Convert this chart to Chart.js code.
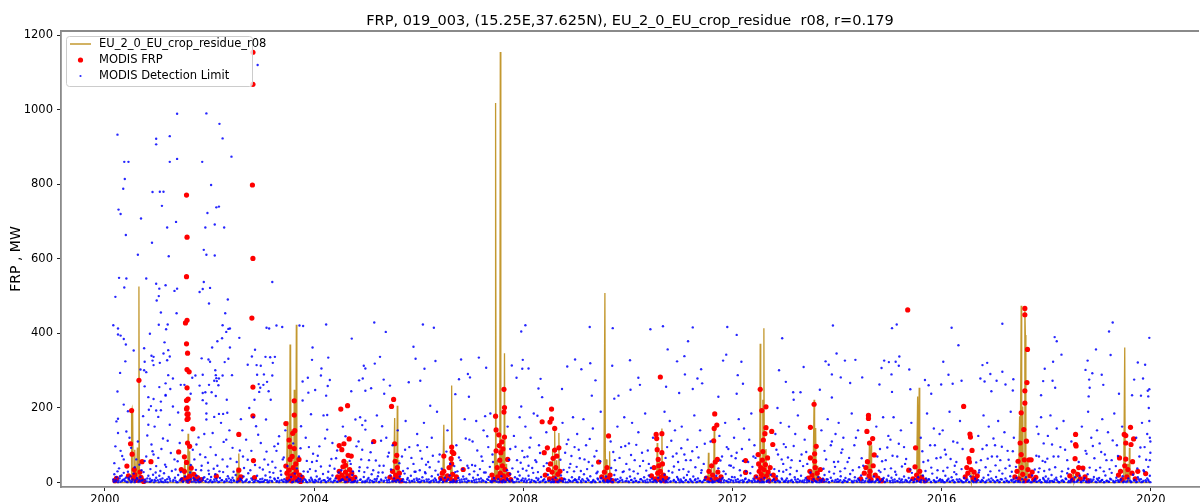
<!DOCTYPE html>
<html>
<head>
<meta charset="utf-8">
<script src="https://cdn.jsdelivr.net/npm/chart.js@4/dist/chart.umd.min.js"></script>
<style>
  html, body { margin: 0; padding: 0; background: #fff; }
  canvas { display: block; }
</style>
</head>
<body>
<canvas id="frp" width="1203" height="502"></canvas>
<script>
const titleText = "FRP, 019_003, (15.25E,37.625N), EU_2_0_EU_crop_residue  r08, r=0.179"
const yLabel = "FRP , MW"
const seriesNames = ["EU_2_0_EU_crop_residue_r08", "MODIS FRP", "MODIS Detection Limit"]
const xTicks = [2000, 2004, 2008, 2012, 2016, 2020]
const yTicks = [0, 200, 400, 600, 800, 1000, 1200]

// model emissions (decimal year, MW) - zero between the summer spikes
const cropResidue = [
  [2000.16,0],[2000.44,0],[2000.45,22],[2000.46,0],[2000.5,0],[2000.51,190],[2000.52,198],[2000.53,186],[2000.54,0],[2000.56,0],[2000.57,88],[2000.58,40],[2000.6,0],[2000.61,0],[2000.62,94],[2000.63,0],[2000.64,0],[2000.65,526],[2000.66,0],[2000.67,30],[2000.68,0],
  [2001.5,0],[2001.53,62],[2001.54,0],[2001.58,0],[2001.59,131],[2001.6,0],[2001.61,84],[2001.62,0],[2001.65,48],[2001.66,0],
  [2002.51,0],[2002.53,40],[2002.54,0],[2002.55,0],[2002.56,78],[2002.57,0],
  [2003.47,0],[2003.49,164],[2003.5,0],[2003.53,0],[2003.54,370],[2003.55,331],[2003.56,0],[2003.57,142],[2003.58,0],[2003.61,0],[2003.62,249],[2003.63,0],[2003.65,0],[2003.66,423],[2003.67,0],[2003.69,60],[2003.7,0],
  [2004.58,0],[2004.6,45],[2004.61,0],[2004.63,0],[2004.64,57],[2004.65,0],
  [2005.52,0],[2005.54,173],[2005.55,0],[2005.58,0],[2005.59,206],[2005.6,0],[2005.62,60],[2005.63,0],
  [2006.46,0],[2006.48,155],[2006.49,0],[2006.6,0],[2006.61,70],[2006.62,0],[2006.63,260],[2006.64,0],
  [2007.44,0],[2007.45,80],[2007.46,0],[2007.47,1018],[2007.48,0],[2007.5,60],[2007.51,0],[2007.55,0],[2007.56,1155],[2007.57,0],[2007.6,95],[2007.61,0],[2007.63,0],[2007.64,347],[2007.65,0],[2007.67,50],[2007.68,0],
  [2008.55,0],[2008.56,90],[2008.57,0],[2008.59,0],[2008.6,142],[2008.61,0],[2008.64,60],[2008.65,0],[2008.67,0],[2008.68,133],[2008.69,0],
  [2009.54,0],[2009.56,508],[2009.57,0],[2009.58,45],[2009.59,62],[2009.6,40],[2009.61,0],[2009.64,0],[2009.65,84],[2009.66,0],
  [2010.55,0],[2010.56,106],[2010.57,0],[2010.6,55],[2010.61,0],[2010.64,0],[2010.65,145],[2010.66,0],
  [2011.53,0],[2011.54,80],[2011.55,0],[2011.6,40],[2011.61,0],[2011.64,0],[2011.65,142],[2011.66,0],
  [2012.52,0],[2012.53,372],[2012.54,0],[2012.57,0],[2012.58,222],[2012.59,0],[2012.6,414],[2012.61,0],[2012.64,90],[2012.65,0],[2012.7,40],[2012.71,0],
  [2013.54,0],[2013.56,222],[2013.57,0],[2013.59,146],[2013.6,0],[2013.62,45],[2013.63,0],
  [2014.58,0],[2014.59,60],[2014.6,0],[2014.62,111],[2014.63,0],[2014.65,100],[2014.66,0],
  [2015.52,0],[2015.54,231],[2015.55,0],[2015.56,0],[2015.57,254],[2015.58,0],[2015.6,25],[2015.61,0],
  [2016.55,0],[2016.56,30],[2016.57,0],[2016.6,22],[2016.61,0],
  [2017.47,0],[2017.49,178],[2017.5,0],[2017.51,0],[2017.52,474],[2017.53,0],[2017.54,0],[2017.55,204],[2017.56,0],[2017.58,0],[2017.59,472],[2017.6,396],[2017.61,0],[2017.64,60],[2017.65,0],
  [2018.5,0],[2018.52,30],[2018.53,0],[2018.58,25],[2018.59,0],
  [2019.48,0],[2019.5,362],[2019.51,0],[2019.55,50],[2019.56,0],[2019.58,0],[2019.59,93],[2019.6,0],[2019.99,0]
]

// MODIS fire radiative power observations
const modisFrp = [
  [2000.19,5],[2000.22,11],[2000.42,44],[2000.45,18],[2000.49,104],[2000.51,193],[2000.52,76],[2000.54,12],[2000.56,35],[2000.57,21],[2000.6,6],[2000.65,274],[2000.67,28],[2000.69,14],[2000.7,8],[2000.71,56],[2000.74,3],[2000.88,56],
  [2001.41,82],[2001.46,35],[2001.48,8],[2001.52,30],[2001.52,69],[2001.54,428],[2001.56,771],[2001.56,552],[2001.56,372],[2001.56,220],[2001.56,197],[2001.56,54],[2001.57,658],[2001.57,435],[2001.57,303],[2001.57,254],[2001.57,200],[2001.57,183],[2001.57,169],[2001.58,347],[2001.58,106],[2001.59,224],[2001.59,184],[2001.59,172],[2001.61,297],[2001.62,97],[2001.62,17],[2001.65,39],[2001.68,144],[2001.7,22],[2001.73,10],[2001.77,13],[2001.84,8],[2001.6,4],[2001.55,12],
  [2002.13,17],[2002.56,129],[2002.56,33],[2002.57,8],[2002.6,15],[2002.81,441],[2002.83,1154],[2002.83,1068],[2002.82,798],[2002.83,601],[2002.83,256],[2002.83,179],[2002.84,59],[2002.86,13],
  [2003.46,158],[2003.52,114],[2003.54,96],[2003.54,62],[2003.46,44],[2003.48,25],[2003.5,10],[2003.52,33],[2003.55,18],[2003.57,5],[2003.59,132],[2003.62,219],[2003.62,181],[2003.62,91],[2003.63,139],[2003.6,40],[2003.61,22],[2003.64,12],[2003.66,30],[2003.68,8],[2003.71,62],[2003.72,20],[2003.74,3],[2003.77,14],[2003.65,50],[2003.58,70],
  [2004.45,15],[2004.48,99],[2004.48,30],[2004.5,8],[2004.51,197],[2004.53,88],[2004.53,20],[2004.55,42],[2004.57,104],[2004.57,57],[2004.58,12],[2004.6,46],[2004.6,28],[2004.62,5],[2004.64,206],[2004.65,73],[2004.65,18],[2004.67,117],[2004.68,35],[2004.7,10],[2004.71,71],[2004.72,25],[2004.75,6],[2004.78,14],
  [2005.14,110],[2005.45,14],[2005.48,204],[2005.5,30],[2005.52,223],[2005.53,8],[2005.54,104],[2005.55,57],[2005.56,20],[2005.58,73],[2005.59,40],[2005.6,11],[2005.63,25],[2005.66,5],
  [2006.42,12],[2006.45,25],[2006.48,71],[2006.48,30],[2006.5,8],[2006.55,18],[2006.58,40],[2006.6,10],[2006.62,64],[2006.63,95],[2006.63,50],[2006.64,82],[2006.65,22],[2006.67,78],[2006.69,6],[2006.72,15],[2006.85,35],
  [2007.4,20],[2007.43,8],[2007.47,178],[2007.48,141],[2007.48,85],[2007.5,40],[2007.51,15],[2007.53,128],[2007.54,99],[2007.55,60],[2007.56,25],[2007.57,80],[2007.58,5],[2007.59,109],[2007.6,45],[2007.61,90],[2007.62,18],[2007.63,250],[2007.63,189],[2007.64,201],[2007.64,122],[2007.65,35],[2007.67,10],[2007.7,62],[2007.72,22],[2007.76,8],
  [2008.36,163],[2008.4,80],[2008.42,20],[2008.46,93],[2008.48,35],[2008.5,10],[2008.51,162],[2008.52,50],[2008.54,197],[2008.54,171],[2008.55,28],[2008.57,65],[2008.58,12],[2008.6,145],[2008.6,87],[2008.62,40],[2008.63,5],[2008.64,71],[2008.66,22],[2008.68,93],[2008.7,30],[2008.73,8],
  [2009.44,55],[2009.5,15],[2009.55,28],[2009.58,8],[2009.6,40],[2009.62,12],[2009.63,125],[2009.66,20],[2009.7,5],
  [2010.45,18],[2010.5,40],[2010.52,10],[2010.54,129],[2010.55,118],[2010.56,88],[2010.57,25],[2010.58,62],[2010.59,45],[2010.6,8],[2010.62,283],[2010.62,30],[2010.64,15],[2010.65,131],[2010.65,80],[2010.66,50],[2010.68,20],[2010.7,5],[2010.73,12],
  [2011.5,12],[2011.55,30],[2011.58,8],[2011.6,45],[2011.62,20],[2011.64,112],[2011.65,145],[2011.66,184],[2011.67,55],[2011.68,10],[2011.7,154],[2011.71,62],[2011.72,28],[2011.75,6],[2011.78,15],
  [2012.25,59],[2012.25,27],[2012.45,15],[2012.49,75],[2012.5,50],[2012.51,30],[2012.52,8],[2012.53,250],[2012.54,40],[2012.55,22],[2012.56,193],[2012.57,60],[2012.58,83],[2012.58,12],[2012.59,114],[2012.6,35],[2012.62,131],[2012.63,48],[2012.64,147],[2012.64,203],[2012.65,18],[2012.67,66],[2012.68,28],[2012.7,5],[2012.72,40],[2012.75,137],[2012.77,102],[2012.78,20],[2012.82,10],
  [2013.45,12],[2013.48,30],[2013.49,148],[2013.49,66],[2013.52,20],[2013.54,8],[2013.56,210],[2013.57,77],[2013.57,57],[2013.58,40],[2013.6,97],[2013.62,25],[2013.65,10],[2013.68,35],[2013.72,6],
  [2014.45,10],[2014.52,25],[2014.55,40],[2014.57,137],[2014.58,56],[2014.6,180],[2014.6,172],[2014.61,18],[2014.62,106],[2014.63,30],[2014.65,8],[2014.68,118],[2014.69,45],[2014.71,74],[2014.73,20],[2014.78,12],[2014.85,5],
  [2015.35,463],[2015.37,33],[2015.45,10],[2015.49,42],[2015.5,93],[2015.52,20],[2015.55,8],[2015.58,30],[2015.62,14],[2015.68,5],
  [2016.42,204],[2016.45,15],[2016.48,40],[2016.5,25],[2016.52,64],[2016.53,55],[2016.54,130],[2016.55,122],[2016.56,35],[2016.58,86],[2016.6,12],[2016.62,28],[2016.65,8],[2016.68,18],
  [2017.4,15],[2017.44,30],[2017.46,57],[2017.48,10],[2017.5,106],[2017.52,187],[2017.52,75],[2017.53,40],[2017.55,22],[2017.57,142],[2017.58,61],[2017.59,467],[2017.59,450],[2017.59,246],[2017.59,213],[2017.6,5],[2017.62,111],[2017.63,268],[2017.64,357],[2017.65,35],[2017.67,61],[2017.69,18],[2017.71,61],[2017.73,28],[2017.76,8],[2017.8,14],
  [2018.45,18],[2018.5,8],[2018.52,30],[2018.55,64],[2018.56,129],[2018.56,102],[2018.57,98],[2018.6,22],[2018.62,40],[2018.65,10],[2018.7,39],[2018.74,15],[2018.8,5],
  [2019.38,20],[2019.4,66],[2019.42,30],[2019.45,8],[2019.49,129],[2019.5,45],[2019.52,126],[2019.52,106],[2019.52,63],[2019.54,15],[2019.56,35],[2019.61,148],[2019.62,102],[2019.64,25],[2019.65,56],[2019.67,117],[2019.7,10],[2019.75,30],[2019.9,24]
]

// MODIS detection limit: scattered high values
const detectionHigh = [
  [2001.38,989],[2001.94,990],[2002.19,962],[2000.24,933],[2000.98,922],[2000.98,907],[2001.24,929],[2002.25,923],[2002.42,874],[2000.37,860],[2000.45,860],[2001.24,860],[2001.38,868],[2001.86,860],[2000.38,814],[2000.35,788],[2000.91,779],[2001.05,780],[2001.12,780],[2002.03,798],[2001.09,742],[2002.13,738],[2002.18,740],[2001.96,723],[2000.26,732],[2000.3,720],[2000.69,708],[2001.36,699],[2001.19,684],[2001.92,684],[2002.1,692],[2002.28,684],[2000.4,664],[2000.9,643],[2000.63,611],[2001.22,607],[2001.89,624],[2001.94,611],[2002.1,609],[2000.27,549],[2000.41,547],[2000.79,547],[2000.37,523],[2000.98,533],[2001.04,520],[2001.16,529],[2001.33,514],[2001.38,520],[2001.89,538],[2001.81,511],[2001.87,519],[2002.01,522],[2003.2,538],[2000.2,498],[2001.03,500],[2000.99,488],[2001.99,480],[2002.35,491],[2001.07,456],[2001.37,454],[2002.3,454],[2002.92,1120],
  [2000.16,422],[2000.25,413],[2001.03,423],[2001.2,424],[2001.17,411],[2000.86,399],[2000.25,397],[2000.3,394],[2000.36,385],[2000.4,370],[2002.25,422],[2002.36,412],[2002.39,413],[2002.32,404],[2002.24,387],[2002.15,379],[2002.57,388],[2003.09,415],[2003.14,413],[2003.28,421],[2003.39,417],[2000.75,360],[2000.55,354],[2001.14,376],[2001.21,355],[2001.12,346],[2001.24,338],[2000.89,340],[2000.93,337],[2000.39,325],[2001.19,328],[2001.05,321],[2000.93,315],[2002.05,362],[2002.39,362],[2001.85,333],[2001.98,330],[2002.36,332],[2002.29,323],[2002.87,356],[2002.81,338],[2003.07,337],[2003.16,336],[2003.25,337],[2003.21,321],[2002.73,316],[2002.9,315],
  [2000.29,294],[2000.68,303],[2000.75,301],[2000.79,296],[2001.21,288],[2001.3,279],[2001.73,287],[2001.87,289],[2002.12,288],[2002.25,287],[2002.43,288],[2002.91,289],[2003.04,290],[2003.2,287],[2003.1,270],[2002.94,264],[2003.03,262],[2003.13,245],[2002.95,243],[2000.24,244],[2000.76,258],[2001.04,256],[2001.16,266],[2001.25,251],[2001.45,262],[2001.52,262],[2002.13,280],[2002.18,279],[2002.09,273],[2001.99,262],[2002.17,261],[2001.87,240],[2001.92,242],[2002.04,242],[2002.12,232],[2001.64,238],[2001.16,235],[2000.83,229],
  [2000.36,209],[2000.44,191],[2000.25,171],[2000.91,327],[2000.76,324],[2000.93,224],[2001.07,217],[2001.16,233],[2000.88,205],[2000.84,195],[2000.98,193],[2001.07,194],[2001.4,188],[2001.02,176],[2001.67,281],[2002.01,324],[2002.11,301],[2002.14,272],[2001.81,260],[2001.87,221],[2001.94,212],[2002.33,222],[2002.26,184],[2002.18,184],[2002.34,187],[2001.94,185],[2002.09,176],[2002.76,200],[2002.84,175],[2002.86,222],[2002.98,313],[2002.97,254],
  [2003.72,421],[2003.79,420],[2004.23,424],[2004.72,386],[2005.15,429],[2005.37,404],[2006.08,424],[2006.29,415],[2007.15,335],[2007.96,405],[2008.04,422],[2003.97,362],[2003.96,329],[2004.27,335],[2004.14,306],[2004.13,287],[2004.3,275],[2004.26,259],[2003.88,281],[2003.89,241],[2004.02,248],[2003.78,271],[2003.78,220],[2003.94,183],[2004.23,233],[2004.25,181],[2004.71,245],[2004.86,274],[2004.93,279],[2004.95,313],[2004.98,306],[2005.16,319],[2005.09,253],[2005.26,337],[2005.33,276],[2005.45,260],[2005.34,238],[2004.98,246],[2004.88,175],[2004.98,166],[2004.92,154],[2005.9,364],[2005.94,332],[2006.11,305],[2005.81,269],[2006.03,273],[2006.22,206],[2006.32,326],[2006.81,330],[2006.7,237],[2006.77,277],[2006.94,291],[2006.98,282],[2006.96,230],[2007.29,308],[2007.78,314],[2007.87,281],[2007.98,305],[2007.99,329],[2008.1,306],[2007.96,204],[2008.29,252],[2008.33,278],[2008.36,229],[2008.27,179],[2007.27,178],
  [2009.27,417],[2009.71,414],[2010.43,411],[2010.67,419],[2011.24,416],[2011.9,417],[2012.08,396],[2012.95,387],[2013.92,421],[2013.99,346],[2010.76,357],[2011.15,379],[2010.94,325],[2011.08,339],[2011.4,304],[2011.82,327],[2011.88,343],[2012.17,324],[2008.99,330],[2009.11,304],[2009.28,320],[2008.84,311],[2009.38,274],[2009.31,233],[2008.74,251],[2009.7,313],[2010.04,328],[2010.2,281],[2010.23,262],[2010.05,249],[2009.82,233],[2009.74,225],[2010.73,257],[2011.09,290],[2011.33,279],[2011.42,266],[2011.24,251],[2010.98,240],[2011.73,230],[2012.1,288],[2012.2,265],[2012.08,238],[2013.02,270],[2012.89,301],[2013.17,222],[2013.16,242],[2013.3,242],[2013.36,310],[2013.67,249],[2013.78,325],[2013.9,290],[2014.07,282],[2014.15,327],[2014.25,267],[2013.9,228],[2013.84,316],[2014.35,329],
  [2015.14,424],[2015.05,414],[2016.19,415],[2016.32,368],[2017.16,426],[2019.27,429],[2019.2,405],[2019.97,388],[2018.16,390],[2018.2,379],[2018.29,343],[2018.95,357],[2019.23,342],[2014.48,282],[2014.9,327],[2014.85,307],[2014.99,323],[2015.12,324],[2015.19,338],[2015.18,313],[2015.04,290],[2015.38,303],[2014.81,263],[2015.05,243],[2015.4,250],[2015.68,275],[2015.75,261],[2016.03,324],[2016.13,289],[2016.21,265],[2016.38,273],[2015.99,263],[2015.8,238],[2016.87,321],[2016.78,315],[2016.93,291],[2016.74,279],[2016.82,271],[2017.05,273],[2017.16,297],[2017.37,277],[2017.22,263],[2016.95,245],[2017.36,247],[2017.97,305],[2018.13,324],[2017.94,272],[2018.12,273],[2018.17,254],[2017.9,234],[2018.79,327],[2018.75,302],[2018.88,293],[2019.06,289],[2018.82,276],[2018.83,254],[2019.09,262],[2018.81,231],[2019.39,238],[2019.64,234],[2019.75,322],[2019.89,316],[2019.85,279],[2019.68,276],[2019.94,246],[2019.95,231],[2019.81,233],[2019.97,250],[2019.96,200]
]

// MODIS detection limit: 40-200 MW
const detectionMid = [
  [2000.22,164],[2000.25,133],[2000.2,97],[2000.41,137],[2000.36,62],[2000.73,178],[2000.83,155],[2000.89,102],[2000.79,70],[2000.6,62],[2000.93,75],[2000.98,44],[2000.3,85],[2000.47,120],[2000.66,48],[2000.95,150],
  [2001.24,155],[2001.3,204],[2001.33,62],[2001.75,102],[2001.94,169],[2001.71,62],[2001.43,106],[2001.97,53],[2001.08,90],[2001.15,48],[2001.48,140],[2001.82,75],[2001.9,130],[2001.2,112],
  [2002.06,133],[2002.22,160],[2002.32,115],[2002.25,62],[2002.44,93],[2002.7,115],[2002.89,151],[2002.98,106],[2002.64,70],[2002.15,45],[2002.38,140],[2002.52,55],[2002.6,170],[2002.8,85],
  [2003.08,169],[2003.17,222],[2003.24,97],[2003.05,62],[2003.33,124],[2003.4,62],[2003.75,151],[2003.84,120],[2003.71,70],[2003.12,48],[2003.28,85],[2003.45,140],[2003.9,95],[2003.96,55],[2003.6,105],
  [2004.1,97],[2004.25,142],[2004.35,106],[2004.6,124],[2004.79,169],[2004.98,142],[2004.92,88],[2004.05,58],[2004.18,180],[2004.42,65],[2004.55,150],[2004.7,50],[2004.85,110],[2004.3,45],
  [2005.11,106],[2005.3,151],[2005.43,80],[2005.05,60],[2005.2,180],[2005.38,120],[2005.6,140],[2005.68,70],[2005.75,165],[2005.82,95],[2005.9,50],[2005.97,130],[2005.25,45],[2005.5,100],
  [2006.03,85],[2006.1,160],[2006.18,55],[2006.25,120],[2006.35,190],[2006.4,75],[2006.55,140],[2006.72,100],[2006.8,60],[2006.88,170],[2006.93,45],[2006.97,115],[2006.14,48],[2006.6,50],
  [2007.03,110],[2007.1,165],[2007.2,70],[2007.24,140],[2007.33,95],[2007.37,185],[2007.42,55],[2007.7,150],[2007.75,90],[2007.82,125],[2007.88,60],[2007.93,175],[2007.98,85],[2007.08,45],
  [2008.04,150],[2008.08,70],[2008.14,120],[2008.2,185],[2008.25,55],[2008.3,100],[2008.44,135],[2008.75,160],[2008.8,80],[2008.86,115],[2008.9,50],[2008.95,175],[2008.98,95],[2008.1,45],
  [2009.03,130],[2009.08,65],[2009.15,170],[2009.2,100],[2009.25,55],[2009.33,145],[2009.4,85],[2009.48,190],[2009.67,110],[2009.75,60],[2009.8,150],[2009.87,95],[2009.93,175],[2009.97,50],
  [2010.02,105],[2010.08,160],[2010.13,60],[2010.2,135],[2010.27,80],[2010.33,185],[2010.4,50],[2010.48,120],[2010.75,95],[2010.8,165],[2010.86,70],[2010.9,140],[2010.96,55],[2010.7,190],
  [2011.03,150],[2011.08,75],[2011.14,115],[2011.2,60],[2011.27,180],[2011.32,95],[2011.38,140],[2011.45,50],[2011.75,125],[2011.8,70],[2011.86,160],[2011.92,90],[2011.97,45],[2011.58,110],
  [2012.03,120],[2012.06,65],[2012.12,170],[2012.18,90],[2012.22,145],[2012.3,55],[2012.36,185],[2012.42,100],[2012.82,130],[2012.87,75],[2012.92,160],[2012.97,50],[2012.4,70],[2012.86,200],
  [2013.02,95],[2013.08,150],[2013.13,60],[2013.2,130],[2013.25,180],[2013.32,75],[2013.38,115],[2013.43,50],[2013.7,140],[2013.76,85],[2013.82,170],[2013.88,100],[2013.94,55],[2013.97,130],
  [2014.03,160],[2014.08,80],[2014.12,120],[2014.2,55],[2014.28,185],[2014.33,100],[2014.4,140],[2014.47,65],[2014.75,150],[2014.82,90],[2014.88,175],[2014.93,60],[2014.98,125],[2014.5,45],
  [2015.02,115],[2015.08,175],[2015.15,70],[2015.22,140],[2015.28,95],[2015.42,160],[2015.6,120],[2015.65,55],[2015.72,185],[2015.78,100],[2015.85,145],[2015.9,65],[2015.96,130],[2015.3,50],
  [2016.02,140],[2016.08,75],[2016.15,190],[2016.22,110],[2016.28,55],[2016.35,165],[2016.4,90],[2016.7,125],[2016.75,60],[2016.8,180],[2016.86,100],[2016.9,150],[2016.96,70],[2016.25,45],
  [2017.02,100],[2017.08,165],[2017.12,60],[2017.2,135],[2017.26,85],[2017.32,190],[2017.38,120],[2017.82,150],[2017.86,70],[2017.9,175],[2017.95,105],[2017.98,55],[2017.3,45],[2017.85,130],
  [2018.03,125],[2018.08,180],[2018.14,70],[2018.2,145],[2018.27,95],[2018.33,165],[2018.4,60],[2018.48,110],[2018.68,150],[2018.75,85],[2018.8,190],[2018.86,120],[2018.92,65],[2018.97,140],
  [2019.02,105],[2019.07,170],[2019.12,75],[2019.18,135],[2019.25,60],[2019.3,185],[2019.35,100],[2019.45,150],[2019.72,120],[2019.78,70],[2019.83,160],[2019.88,95],[2019.93,130],[2019.98,60],[2019.97,165],[2019.98,120],[2019.99,80]
]

// MODIS detection limit: more of the 25-140 MW cloud
const detectionCloud = [
  [2000.18,52],[2000.27,38],[2000.33,71],[2000.44,29],[2000.5,93],[2000.57,41],[2000.63,110],[2000.7,33],[2000.76,58],[2000.81,126],[2000.87,36],[2000.91,84],[2000.97,27],
  [2001.02,66],[2001.06,31],[2001.11,118],[2001.17,42],[2001.26,79],[2001.35,35],[2001.39,57],[2001.45,28],[2001.64,47],[2001.68,88],[2001.74,34],[2001.79,121],[2001.85,45],[2001.92,68],[2001.98,32],
  [2002.02,95],[2002.08,37],[2002.12,74],[2002.19,30],[2002.27,109],[2002.34,43],[2002.4,64],[2002.46,29],[2002.58,86],[2002.66,39],[2002.73,61],[2002.78,33],[2002.87,47],[2002.93,128],[2002.96,40],
  [2003.02,35],[2003.09,83],[2003.15,28],[2003.2,56],[2003.26,40],[2003.31,104],[2003.36,31],[2003.42,67],[2003.49,44],[2003.67,38],[2003.74,92],[2003.8,30],[2003.86,58],[2003.92,36],[2003.98,77],
  [2004.03,31],[2004.07,72],[2004.13,43],[2004.21,118],[2004.27,29],[2004.33,63],[2004.39,37],[2004.44,86],[2004.52,33],[2004.68,58],[2004.74,30],[2004.81,97],[2004.87,41],[2004.9,62],[2004.96,28],
  [2005.02,40],[2005.08,81],[2005.13,33],[2005.18,59],[2005.23,27],[2005.28,112],[2005.33,45],[2005.41,70],[2005.47,35],[2005.63,52],[2005.7,31],[2005.74,88],[2005.79,38],[2005.86,66],[2005.92,29],[2005.98,100],
  [2006.02,33],[2006.06,64],[2006.12,28],[2006.16,95],[2006.21,41],[2006.27,72],[2006.32,32],[2006.38,56],[2006.44,37],[2006.53,83],[2006.68,44],[2006.74,30],[2006.77,67],[2006.84,36],[2006.9,118],[2006.95,39],
  [2007.02,47],[2007.06,30],[2007.12,86],[2007.17,36],[2007.22,58],[2007.28,27],[2007.31,124],[2007.36,42],[2007.41,75],[2007.69,33],[2007.73,61],[2007.79,38],[2007.85,96],[2007.9,29],[2007.95,53],[2007.99,37],
  [2008.02,68],[2008.06,32],[2008.12,94],[2008.17,39],[2008.23,60],[2008.28,28],[2008.32,79],[2008.39,44],[2008.45,52],[2008.71,61],[2008.77,34],[2008.83,103],[2008.88,40],[2008.92,71],[2008.97,30],
  [2009.02,42],[2009.06,88],[2009.1,31],[2009.17,62],[2009.22,36],[2009.27,117],[2009.32,45],[2009.36,70],[2009.42,29],[2009.47,57],[2009.68,39],[2009.72,82],[2009.77,33],[2009.84,66],[2009.9,28],[2009.95,98],
  [2010.03,35],[2010.06,74],[2010.11,30],[2010.16,101],[2010.23,44],[2010.29,58],[2010.35,32],[2010.38,86],[2010.44,39],[2010.72,66],[2010.78,31],[2010.83,112],[2010.88,43],[2010.93,78],[2010.98,34],
  [2011.02,92],[2011.06,36],[2011.11,60],[2011.16,29],[2011.23,84],[2011.29,41],[2011.35,67],[2011.41,33],[2011.47,104],[2011.73,38],[2011.77,59],[2011.83,30],[2011.89,95],[2011.94,46],[2011.98,71],
  [2012.02,40],[2012.08,80],[2012.14,33],[2012.2,58],[2012.26,30],[2012.32,115],[2012.38,42],[2012.44,66],[2012.8,36],[2012.84,88],[2012.89,31],[2012.94,62],[2012.98,103],
  [2013.03,34],[2013.06,67],[2013.11,40],[2013.17,98],[2013.23,31],[2013.29,58],[2013.35,44],[2013.41,82],[2013.74,37],[2013.79,62],[2013.85,29],[2013.9,110],[2013.96,42],
  [2014.02,56],[2014.06,30],[2014.1,89],[2014.15,38],[2014.23,66],[2014.3,33],[2014.36,120],[2014.42,41],[2014.77,70],[2014.8,32],[2014.86,57],[2014.91,36],[2014.96,94],
  [2015.03,38],[2015.06,72],[2015.11,29],[2015.18,104],[2015.24,43],[2015.32,63],[2015.4,35],[2015.63,84],[2015.69,31],[2015.74,59],[2015.8,40],[2015.87,100],[2015.92,33],[2015.98,67],
  [2016.03,31],[2016.06,88],[2016.11,40],[2016.17,63],[2016.24,28],[2016.3,107],[2016.38,36],[2016.66,54],[2016.72,33],[2016.78,90],[2016.84,41],[2016.88,64],[2016.93,30],[2016.99,118],
  [2017.03,46],[2017.06,70],[2017.1,32],[2017.15,96],[2017.22,38],[2017.28,61],[2017.34,29],[2017.36,84],[2017.42,42],[2017.78,35],[2017.81,72],[2017.87,38],[2017.93,58],[2017.96,31],
  [2018.02,64],[2018.06,35],[2018.11,102],[2018.17,41],[2018.23,70],[2018.3,30],[2018.36,88],[2018.42,37],[2018.62,55],[2018.71,32],[2018.77,77],[2018.83,40],[2018.89,98],[2018.95,33],
  [2019.03,40],[2019.05,82],[2019.1,30],[2019.15,60],[2019.21,36],[2019.27,113],[2019.33,44],[2019.37,71],[2019.74,38],[2019.8,94],[2019.86,33],[2019.91,61],[2019.95,42],[2019.99,110]
]

// MODIS detection limit: the dense band near zero
const detectionLow = [
  [2000.16,8],[2000.18,22],[2000.2,3],[2000.22,14],[2000.24,30],[2000.26,5],[2000.28,11],[2000.3,2],[2000.32,19],[2000.34,7],[2000.36,26],[2000.38,4],[2000.4,13],[2000.43,1],[2000.46,9],[2000.49,17],[2000.52,3],[2000.55,24],[2000.58,6],[2000.61,12],[2000.64,2],[2000.68,15],[2000.71,5],[2000.74,28],[2000.77,8],[2000.8,3],[2000.83,18],[2000.86,10],[2000.89,4],[2000.92,21],[2000.95,7],[2000.98,13],[2000.5,1],[2000.66,6],[2000.85,2],
  [2001.01,6],[2001.04,18],[2001.07,3],[2001.1,11],[2001.13,25],[2001.16,2],[2001.19,9],[2001.22,15],[2001.25,4],[2001.28,31],[2001.31,7],[2001.34,13],[2001.37,1],[2001.4,20],[2001.43,5],[2001.47,10],[2001.5,3],[2001.53,16],[2001.6,6],[2001.63,27],[2001.66,2],[2001.69,12],[2001.72,8],[2001.75,19],[2001.78,4],[2001.81,10],[2001.84,33],[2001.87,6],[2001.9,14],[2001.93,2],[2001.96,9],[2001.99,23],[2001.12,1],[2001.56,5],[2001.8,1],
  [2002.01,4],[2002.03,15],[2002.06,2],[2002.09,8],[2002.11,22],[2002.14,5],[2002.17,1],[2002.2,12],[2002.23,6],[2002.26,28],[2002.29,3],[2002.32,9],[2002.35,17],[2002.38,2],[2002.41,7],[2002.44,13],[2002.47,4],[2002.5,20],[2002.53,1],[2002.59,10],[2002.62,5],[2002.65,16],[2002.68,3],[2002.71,8],[2002.74,25],[2002.77,2],[2002.8,11],[2002.88,6],[2002.91,18],[2002.94,3],[2002.97,9],[2002.56,4],[2002.84,1],[2002.99,2],
  [2003.01,10],[2003.04,3],[2003.07,19],[2003.1,6],[2003.13,1],[2003.16,14],[2003.19,4],[2003.22,26],[2003.25,8],[2003.28,2],[2003.31,12],[2003.34,5],[2003.37,21],[2003.4,3],[2003.43,9],[2003.47,1],[2003.53,7],[2003.56,15],[2003.6,2],[2003.63,24],[2003.67,6],[2003.7,11],[2003.73,3],[2003.76,18],[2003.79,5],[2003.82,9],[2003.85,2],[2003.88,29],[2003.91,7],[2003.94,13],[2003.97,4],[2003.99,1],[2003.5,3],
  [2004.02,7],[2004.05,16],[2004.08,2],[2004.11,10],[2004.14,4],[2004.17,23],[2004.2,6],[2004.23,1],[2004.26,13],[2004.29,8],[2004.32,3],[2004.35,19],[2004.38,5],[2004.41,11],[2004.44,2],[2004.47,27],[2004.5,4],[2004.54,9],[2004.59,1],[2004.63,14],[2004.66,3],[2004.69,7],[2004.73,20],[2004.76,2],[2004.8,12],[2004.83,5],[2004.86,31],[2004.89,8],[2004.92,1],[2004.95,15],[2004.98,4],[2004.56,6],[2004.74,1],
  [2005.01,3],[2005.04,12],[2005.07,6],[2005.1,22],[2005.13,1],[2005.16,9],[2005.19,4],[2005.22,17],[2005.25,2],[2005.28,8],[2005.31,27],[2005.34,5],[2005.37,13],[2005.4,1],[2005.43,7],[2005.46,19],[2005.49,3],[2005.53,11],[2005.57,2],[2005.61,6],[2005.64,16],[2005.67,4],[2005.7,9],[2005.73,24],[2005.76,1],[2005.79,12],[2005.82,5],[2005.85,18],[2005.88,3],[2005.91,8],[2005.94,29],[2005.97,6],[2005.99,2],[2005.55,4],
  [2006.01,9],[2006.04,2],[2006.07,14],[2006.1,5],[2006.13,25],[2006.16,3],[2006.19,8],[2006.22,1],[2006.25,17],[2006.28,6],[2006.31,11],[2006.34,2],[2006.37,21],[2006.4,4],[2006.43,7],[2006.46,1],[2006.5,13],[2006.53,3],[2006.56,9],[2006.59,19],[2006.62,2],[2006.66,6],[2006.7,28],[2006.73,4],[2006.76,12],[2006.79,1],[2006.82,8],[2006.85,16],[2006.88,3],[2006.91,10],[2006.94,5],[2006.97,22],[2006.65,1],
  [2007.01,4],[2007.04,13],[2007.07,1],[2007.1,8],[2007.13,20],[2007.16,3],[2007.19,11],[2007.22,6],[2007.25,27],[2007.28,2],[2007.31,9],[2007.34,15],[2007.37,4],[2007.4,1],[2007.44,12],[2007.46,5],[2007.49,2],[2007.52,9],[2007.55,3],[2007.58,17],[2007.62,6],[2007.66,2],[2007.69,10],[2007.72,4],[2007.75,23],[2007.78,7],[2007.81,1],[2007.84,14],[2007.87,3],[2007.9,9],[2007.93,19],[2007.96,5],[2007.99,11],[2007.6,1],
  [2008.01,2],[2008.04,10],[2008.07,5],[2008.1,18],[2008.13,1],[2008.16,7],[2008.19,26],[2008.22,3],[2008.25,12],[2008.28,6],[2008.31,1],[2008.34,15],[2008.37,4],[2008.4,9],[2008.43,2],[2008.47,21],[2008.5,5],[2008.53,1],[2008.56,8],[2008.59,3],[2008.62,13],[2008.65,2],[2008.69,6],[2008.72,19],[2008.75,4],[2008.78,10],[2008.81,1],[2008.84,28],[2008.87,7],[2008.9,3],[2008.93,14],[2008.96,5],[2008.99,9],[2008.58,1],
  [2009.01,6],[2009.04,1],[2009.07,14],[2009.1,4],[2009.13,9],[2009.16,22],[2009.19,2],[2009.22,11],[2009.25,5],[2009.28,17],[2009.31,1],[2009.34,7],[2009.37,3],[2009.4,25],[2009.43,8],[2009.46,2],[2009.49,12],[2009.52,4],[2009.55,1],[2009.58,16],[2009.61,6],[2009.64,3],[2009.68,10],[2009.71,1],[2009.74,20],[2009.77,5],[2009.8,9],[2009.83,2],[2009.86,13],[2009.89,7],[2009.92,30],[2009.95,3],[2009.98,11],[2009.6,2],
  [2010.01,3],[2010.04,16],[2010.07,7],[2010.1,1],[2010.13,11],[2010.16,4],[2010.19,24],[2010.22,2],[2010.25,9],[2010.28,5],[2010.31,14],[2010.34,1],[2010.37,8],[2010.4,19],[2010.43,3],[2010.46,10],[2010.49,2],[2010.52,6],[2010.55,1],[2010.58,13],[2010.61,4],[2010.64,2],[2010.67,9],[2010.7,21],[2010.73,5],[2010.76,1],[2010.79,12],[2010.82,3],[2010.85,27],[2010.88,7],[2010.91,2],[2010.94,15],[2010.97,6],[2010.99,1],
  [2011.01,8],[2011.04,2],[2011.07,13],[2011.1,5],[2011.13,20],[2011.16,1],[2011.19,9],[2011.22,3],[2011.25,16],[2011.28,6],[2011.31,1],[2011.34,11],[2011.37,4],[2011.4,26],[2011.43,2],[2011.46,7],[2011.49,14],[2011.52,3],[2011.56,1],[2011.59,10],[2011.62,5],[2011.66,2],[2011.69,18],[2011.72,4],[2011.75,8],[2011.78,1],[2011.81,12],[2011.84,6],[2011.87,23],[2011.9,3],[2011.93,9],[2011.96,2],[2011.99,15],[2011.63,1],
  [2012.01,5],[2012.04,14],[2012.07,2],[2012.1,9],[2012.13,1],[2012.16,19],[2012.19,6],[2012.22,3],[2012.25,11],[2012.28,1],[2012.31,7],[2012.34,25],[2012.37,4],[2012.4,10],[2012.43,2],[2012.46,15],[2012.49,5],[2012.52,1],[2012.55,8],[2012.58,3],[2012.61,12],[2012.65,2],[2012.69,6],[2012.73,21],[2012.76,4],[2012.79,9],[2012.82,1],[2012.85,17],[2012.88,5],[2012.91,2],[2012.94,11],[2012.97,29],[2012.99,3],[2012.6,1],
  [2013.01,2],[2013.04,11],[2013.07,4],[2013.1,22],[2013.13,7],[2013.16,1],[2013.19,14],[2013.22,3],[2013.25,9],[2013.28,2],[2013.31,18],[2013.34,5],[2013.37,1],[2013.4,12],[2013.43,6],[2013.46,3],[2013.49,27],[2013.52,2],[2013.55,9],[2013.58,4],[2013.61,1],[2013.64,15],[2013.67,6],[2013.7,2],[2013.73,10],[2013.76,20],[2013.79,3],[2013.82,8],[2013.85,1],[2013.88,13],[2013.91,5],[2013.94,24],[2013.97,7],[2013.99,2],
  [2014.01,9],[2014.04,3],[2014.07,17],[2014.1,1],[2014.13,6],[2014.16,12],[2014.19,2],[2014.22,8],[2014.25,23],[2014.28,4],[2014.31,1],[2014.34,14],[2014.37,5],[2014.4,10],[2014.43,2],[2014.46,19],[2014.49,6],[2014.52,1],[2014.56,11],[2014.59,3],[2014.62,7],[2014.66,2],[2014.7,16],[2014.74,4],[2014.77,9],[2014.8,1],[2014.83,28],[2014.86,5],[2014.89,12],[2014.92,2],[2014.95,8],[2014.98,18],[2014.64,1],
  [2015.01,4],[2015.04,13],[2015.07,1],[2015.1,8],[2015.13,21],[2015.16,3],[2015.19,10],[2015.22,5],[2015.25,1],[2015.28,16],[2015.31,7],[2015.34,2],[2015.37,12],[2015.4,4],[2015.43,26],[2015.46,1],[2015.49,9],[2015.52,3],[2015.55,14],[2015.58,2],[2015.61,6],[2015.64,19],[2015.67,1],[2015.7,11],[2015.73,5],[2015.76,8],[2015.79,2],[2015.82,24],[2015.85,6],[2015.88,1],[2015.91,13],[2015.94,4],[2015.97,9],[2015.99,2],
  [2016.01,7],[2016.04,1],[2016.07,18],[2016.1,4],[2016.13,10],[2016.16,2],[2016.19,14],[2016.22,6],[2016.25,1],[2016.28,22],[2016.31,3],[2016.34,9],[2016.37,5],[2016.4,1],[2016.43,12],[2016.46,3],[2016.49,8],[2016.52,2],[2016.55,17],[2016.58,5],[2016.61,1],[2016.64,10],[2016.67,4],[2016.71,27],[2016.74,2],[2016.77,7],[2016.8,13],[2016.83,1],[2016.86,5],[2016.89,20],[2016.92,3],[2016.95,11],[2016.98,6],
  [2017.01,3],[2017.04,15],[2017.07,6],[2017.1,1],[2017.13,9],[2017.16,24],[2017.19,2],[2017.22,11],[2017.25,5],[2017.28,1],[2017.31,17],[2017.34,4],[2017.37,8],[2017.4,2],[2017.43,13],[2017.47,5],[2017.5,1],[2017.54,9],[2017.57,3],[2017.61,14],[2017.64,2],[2017.67,6],[2017.7,1],[2017.73,19],[2017.76,4],[2017.79,10],[2017.82,2],[2017.85,28],[2017.88,7],[2017.91,1],[2017.94,12],[2017.97,5],[2017.99,16],
  [2018.01,1],[2018.04,10],[2018.07,4],[2018.1,20],[2018.13,2],[2018.16,8],[2018.19,13],[2018.22,3],[2018.25,1],[2018.28,16],[2018.31,6],[2018.34,2],[2018.37,11],[2018.4,25],[2018.43,4],[2018.46,1],[2018.49,9],[2018.52,3],[2018.55,14],[2018.58,2],[2018.61,7],[2018.64,18],[2018.67,1],[2018.7,5],[2018.73,12],[2018.76,3],[2018.79,22],[2018.82,1],[2018.85,8],[2018.88,4],[2018.91,15],[2018.94,2],[2018.97,10],[2018.99,6],
  [2019.01,12],[2019.04,3],[2019.07,7],[2019.1,1],[2019.13,19],[2019.16,5],[2019.19,2],[2019.22,10],[2019.25,26],[2019.28,4],[2019.31,1],[2019.34,13],[2019.37,6],[2019.4,2],[2019.43,9],[2019.46,17],[2019.49,3],[2019.53,1],[2019.57,11],[2019.6,5],[2019.63,2],[2019.66,21],[2019.69,7],[2019.72,1],[2019.75,14],[2019.78,4],[2019.81,9],[2019.84,2],[2019.87,30],[2019.9,6],[2019.93,11],[2019.96,3],[2019.98,18],[2019.99,1]
]

// MODIS detection limit: second pass over the band, between the first pass days
const detectionLowB = [
  [2000.17,2],[2000.21,6],[2000.25,1],[2000.29,17],[2000.33,4],[2000.37,9],[2000.41,2],[2000.45,12],[2000.48,5],[2000.53,8],[2000.57,1],[2000.62,10],[2000.67,3],[2000.72,7],[2000.76,1],[2000.81,11],[2000.87,2],[2000.9,6],[2000.94,1],[2000.97,4],
  [2001.03,1],[2001.06,8],[2001.09,2],[2001.15,6],[2001.2,1],[2001.24,10],[2001.3,3],[2001.35,5],[2001.39,1],[2001.45,8],[2001.49,2],[2001.58,1],[2001.64,9],[2001.7,3],[2001.74,1],[2001.77,7],[2001.83,2],[2001.88,12],[2001.92,4],[2001.98,1],
  [2002.02,7],[2002.05,1],[2002.1,3],[2002.13,10],[2002.19,2],[2002.24,6],[2002.28,1],[2002.33,4],[2002.37,11],[2002.42,1],[2002.46,6],[2002.52,2],[2002.6,8],[2002.64,1],[2002.7,5],[2002.75,1],[2002.82,7],[2002.86,2],[2002.92,4],[2002.96,1],
  [2003.02,2],[2003.06,7],[2003.11,1],[2003.15,5],[2003.2,2],[2003.24,11],[2003.29,4],[2003.33,1],[2003.38,7],[2003.42,2],[2003.46,5],[2003.58,1],[2003.65,4],[2003.69,1],[2003.74,9],[2003.78,2],[2003.84,6],[2003.87,1],[2003.92,3],[2003.96,8],
  [2004.01,1],[2004.04,4],[2004.09,8],[2004.13,1],[2004.18,6],[2004.22,2],[2004.27,4],[2004.31,10],[2004.36,1],[2004.4,5],[2004.45,2],[2004.52,7],[2004.61,2],[2004.67,9],[2004.71,1],[2004.78,4],[2004.82,1],[2004.88,7],[2004.93,3],[2004.97,1],
  [2005.02,8],[2005.06,1],[2005.11,4],[2005.15,2],[2005.2,10],[2005.24,1],[2005.29,5],[2005.33,2],[2005.39,6],[2005.44,1],[2005.51,3],[2005.59,7],[2005.63,1],[2005.68,5],[2005.72,2],[2005.78,8],[2005.83,1],[2005.87,4],[2005.92,2],[2005.96,11],
  [2006.02,1],[2006.06,5],[2006.11,2],[2006.15,8],[2006.2,1],[2006.24,4],[2006.29,2],[2006.33,7],[2006.38,1],[2006.42,10],[2006.47,2],[2006.54,5],[2006.6,1],[2006.68,3],[2006.72,1],[2006.78,6],[2006.83,2],[2006.87,9],[2006.92,1],[2006.96,4],
  [2007.02,2],[2007.06,6],[2007.11,1],[2007.15,9],[2007.2,2],[2007.24,4],[2007.29,1],[2007.33,7],[2007.38,2],[2007.42,5],[2007.53,1],[2007.59,3],[2007.65,1],[2007.7,7],[2007.74,2],[2007.79,4],[2007.83,1],[2007.88,10],[2007.92,2],[2007.97,6],
  [2008.02,5],[2008.06,1],[2008.11,8],[2008.15,2],[2008.2,4],[2008.24,1],[2008.29,10],[2008.33,2],[2008.38,6],[2008.42,1],[2008.48,4],[2008.55,2],[2008.67,1],[2008.71,5],[2008.76,2],[2008.8,8],[2008.85,1],[2008.89,4],[2008.94,2],[2008.98,7],
  [2009.02,2],[2009.06,9],[2009.11,1],[2009.15,5],[2009.2,2],[2009.24,7],[2009.29,1],[2009.33,4],[2009.38,1],[2009.42,11],[2009.47,2],[2009.53,6],[2009.62,1],[2009.66,4],[2009.7,2],[2009.76,8],[2009.81,1],[2009.85,5],[2009.9,2],[2009.97,4],
  [2010.02,1],[2010.06,6],[2010.11,2],[2010.15,4],[2010.2,1],[2010.24,9],[2010.29,2],[2010.33,5],[2010.38,1],[2010.42,7],[2010.47,2],[2010.53,4],[2010.63,1],[2010.68,5],[2010.72,1],[2010.77,8],[2010.81,2],[2010.87,4],[2010.92,1],[2010.96,10],
  [2011.02,4],[2011.06,1],[2011.11,7],[2011.15,2],[2011.2,5],[2011.24,1],[2011.29,9],[2011.33,2],[2011.38,4],[2011.42,1],[2011.47,6],[2011.54,2],[2011.61,1],[2011.7,5],[2011.74,2],[2011.79,8],[2011.83,1],[2011.88,4],[2011.92,1],[2011.97,7],
  [2012.02,1],[2012.06,7],[2012.11,2],[2012.15,5],[2012.2,1],[2012.24,9],[2012.29,2],[2012.33,4],[2012.38,1],[2012.42,6],[2012.47,2],[2012.56,1],[2012.66,4],[2012.71,1],[2012.77,6],[2012.81,2],[2012.86,4],[2012.9,1],[2012.95,8],[2012.98,2],
  [2013.02,6],[2013.06,1],[2013.11,4],[2013.15,2],[2013.2,8],[2013.24,1],[2013.29,5],[2013.33,2],[2013.38,7],[2013.42,1],[2013.47,4],[2013.53,1],[2013.6,3],[2013.66,1],[2013.71,6],[2013.75,2],[2013.8,9],[2013.84,1],[2013.9,4],[2013.95,2],
  [2014.02,2],[2014.06,6],[2014.11,1],[2014.15,4],[2014.2,2],[2014.24,8],[2014.29,1],[2014.33,5],[2014.38,2],[2014.42,7],[2014.47,1],[2014.54,4],[2014.61,1],[2014.68,3],[2014.72,1],[2014.78,6],[2014.82,2],[2014.87,9],[2014.91,1],[2014.96,4],
  [2015.02,1],[2015.06,6],[2015.11,2],[2015.15,4],[2015.2,1],[2015.24,8],[2015.29,2],[2015.33,5],[2015.38,1],[2015.42,7],[2015.47,2],[2015.53,4],[2015.6,1],[2015.66,5],[2015.71,2],[2015.75,9],[2015.8,1],[2015.86,4],[2015.9,2],[2015.96,6],
  [2016.02,4],[2016.06,1],[2016.11,7],[2016.15,2],[2016.2,5],[2016.24,1],[2016.29,8],[2016.33,2],[2016.38,4],[2016.42,1],[2016.47,6],[2016.53,1],[2016.6,3],[2016.66,1],[2016.7,6],[2016.75,2],[2016.79,4],[2016.84,1],[2016.9,8],[2016.94,2],
  [2017.02,1],[2017.06,5],[2017.11,2],[2017.15,8],[2017.2,1],[2017.24,4],[2017.29,2],[2017.33,7],[2017.38,1],[2017.42,5],[2017.46,2],[2017.56,1],[2017.66,4],[2017.72,1],[2017.77,6],[2017.81,2],[2017.86,4],[2017.9,1],[2017.95,9],[2017.98,2],
  [2018.02,5],[2018.06,1],[2018.11,4],[2018.15,2],[2018.2,7],[2018.24,1],[2018.29,4],[2018.33,2],[2018.38,9],[2018.42,1],[2018.47,5],[2018.54,1],[2018.6,4],[2018.66,2],[2018.72,6],[2018.77,1],[2018.81,5],[2018.86,2],[2018.9,8],[2018.96,1],
  [2019.02,2],[2019.06,6],[2019.11,1],[2019.15,4],[2019.2,2],[2019.24,8],[2019.29,1],[2019.33,5],[2019.38,2],[2019.42,7],[2019.47,1],[2019.55,4],[2019.62,1],[2019.68,5],[2019.73,2],[2019.77,9],[2019.82,1],[2019.86,4],[2019.91,2],[2019.95,7]
]

const FONT = "'DejaVu Sans', sans-serif"
const LINE_COLOR = "rgba(184, 134, 11, 0.85)"
const FRP_COLOR = "#ff0000"
const LIMIT_COLOR = "rgba(0, 0, 255, 0.85)"
const SPINE = "#8a8a8a"

const toXY = pts => pts.map(([x, y]) => ({ x, y }))

// top spine, title, y label and legend, drawn like the matplotlib original
const frame = {
  id: "frame",
  afterDraw(chart) {
    const { ctx, chartArea: a } = chart
    ctx.save()
    ctx.strokeStyle = SPINE
    ctx.lineWidth = 1.8
    ctx.beginPath()
    ctx.moveTo(a.left, a.top)
    ctx.lineTo(a.right, a.top)
    ctx.stroke()

    ctx.fillStyle = "#000"
    ctx.textAlign = "center"
    ctx.textBaseline = "alphabetic"
    ctx.font = `14.5px ${FONT}`
    ctx.fillText(titleText, (a.left + a.right) / 2, 25)

    ctx.save()
    ctx.translate(16, (a.top + a.bottom) / 2)
    ctx.rotate(-Math.PI / 2)
    ctx.textBaseline = "middle"
    ctx.font = `14px ${FONT}`
    ctx.fillText(yLabel, 0, 0)
    ctx.restore()

    // legend box
    const bx = 66.5, by = 36.5, bw = 186, bh = 50, r = 3
    ctx.beginPath()
    ctx.moveTo(bx + r, by)
    ctx.arcTo(bx + bw, by, bx + bw, by + bh, r)
    ctx.arcTo(bx + bw, by + bh, bx, by + bh, r)
    ctx.arcTo(bx, by + bh, bx, by, r)
    ctx.arcTo(bx, by, bx + bw, by, r)
    ctx.closePath()
    ctx.fillStyle = "rgba(255,255,255,0.8)"
    ctx.fill()
    ctx.strokeStyle = "#cccccc"
    ctx.lineWidth = 1
    ctx.stroke()

    ctx.strokeStyle = LINE_COLOR
    ctx.lineWidth = 1.5
    ctx.beginPath()
    ctx.moveTo(70, 44)
    ctx.lineTo(91, 44)
    ctx.stroke()
    ctx.fillStyle = FRP_COLOR
    ctx.beginPath()
    ctx.arc(80.5, 60, 2.6, 0, Math.PI * 2)
    ctx.fill()
    ctx.fillStyle = LIMIT_COLOR
    ctx.beginPath()
    ctx.arc(80.5, 76, 1.1, 0, Math.PI * 2)
    ctx.fill()

    ctx.fillStyle = "#000"
    ctx.textAlign = "left"
    ctx.textBaseline = "middle"
    ctx.font = `11.5px ${FONT}`
    seriesNames.forEach((name, i) => ctx.fillText(name, 99, 44 + i * 16))
    ctx.restore()
  }
}

const axisCommon = {
  type: "linear",
  grid: { drawOnChartArea: false, drawTicks: true, tickLength: 4, color: "#222", lineWidth: 1 },
  border: { display: true, color: SPINE, width: 1.8 },
}

new Chart(document.getElementById("frp"), {
  type: "scatter",
  data: {
    datasets: [
      {
        label: seriesNames[2],
        data: toXY([...detectionLow, ...detectionLowB, ...detectionCloud, ...detectionMid, ...detectionHigh]),
        backgroundColor: LIMIT_COLOR,
        borderWidth: 0,
        pointRadius: 1.2,
        order: 0
      },
      {
        label: seriesNames[1],
        data: toXY(modisFrp),
        backgroundColor: FRP_COLOR,
        borderWidth: 0,
        pointRadius: 2.6,
        order: 1
      },
      {
        label: seriesNames[0],
        type: "line",
        data: toXY(cropResidue),
        borderColor: LINE_COLOR,
        borderWidth: 1.3,
        pointRadius: 0,
        tension: 0,
        fill: false,
        order: 2
      }
    ]
  },
  options: {
    responsive: false,
    animation: false,
    devicePixelRatio: 1,
    layout: { padding: { top: 31, right: 0, bottom: 0, left: 0 } },
    plugins: {
      legend: { display: false },
      title: { display: false },
      tooltip: { enabled: false }
    },
    scales: {
      x: {
        ...axisCommon,
        min: 1999.16,
        max: 2020.92,
        afterBuildTicks: s => { s.ticks = xTicks.map(v => ({ value: v })) },
        afterFit: s => { s.height = 15 },
        ticks: {
          callback: v => String(v),
          color: "#000",
          font: { family: FONT, size: 11.5 },
          padding: 2,
          maxRotation: 0,
          autoSkip: false
        }
      },
      y: {
        ...axisCommon,
        min: -12,
        max: 1211,
        afterBuildTicks: s => { s.ticks = yTicks.map(v => ({ value: v })) },
        afterFit: s => { s.width = 61 },
        ticks: {
          callback: v => String(v),
          color: "#000",
          font: { family: FONT, size: 11.5 },
          padding: 4,
          autoSkip: false
        }
      }
    }
  },
  plugins: [frame]
})
</script>
</body>
</html>
